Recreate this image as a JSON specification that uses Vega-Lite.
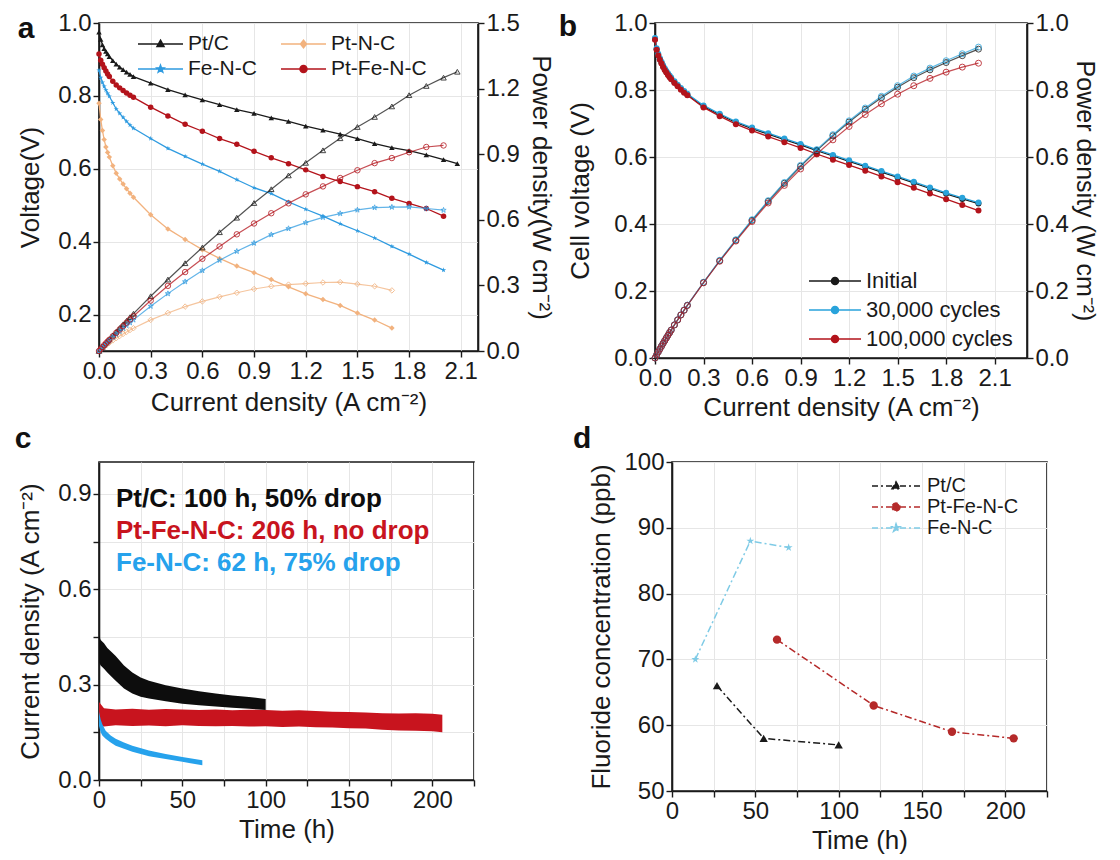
{
"$schema": "https://vega.github.io/schema/vega-lite/v6.json",
"background": "white",
"padding": {"left": 13, "top": 10, "right": 0, "bottom": 0},
"config": {
  "font": "Liberation Sans",
  "view": {"stroke": "#1a1a1a", "strokeWidth": 1.6},
  "axis": {"labelFontSize": 24, "titleFontSize": 26, "titleFontWeight": "normal", "labelColor": "#1a1a1a", "titleColor": "#1a1a1a", "domainColor": "#1a1a1a", "domainWidth": 1.6, "tickColor": "#1a1a1a", "tickWidth": 1.4, "tickSize": 6, "gridColor": "#e6e6e6", "gridWidth": 1, "labelPadding": 2, "titlePadding": 8, "labelOverlap": false, "labelFlush": false},
  "legend": {"labelLimit": 600, "padding": 0, "titlePadding": 0, "labelColor": "#1a1a1a"},
  "title": {"anchor": "start", "frame": "bounds", "fontSize": 30, "fontWeight": "bold", "color": "#111111", "offset": 0, "baseline": "alphabetic"}
},
"resolve": {"scale": {"color": "independent", "shape": "independent"}, "legend": {"color": "independent", "shape": "independent"}},
"datasets": {
"pa": [
{"s":"Pt/C","j":0,"V":0.975,"P":0},{"s":"Pt/C","j":0.01,"V":0.955,"P":0.0096},{"s":"Pt/C","j":0.02,"V":0.94,"P":0.0188},{"s":"Pt/C","j":0.03,"V":0.93,"P":0.0279},{"s":"Pt/C","j":0.04,"V":0.922,"P":0.0369},{"s":"Pt/C","j":0.05,"V":0.915,"P":0.0458},{"s":"Pt/C","j":0.06,"V":0.908,"P":0.0545},{"s":"Pt/C","j":0.08,"V":0.897,"P":0.0718},{"s":"Pt/C","j":0.1,"V":0.887,"P":0.0887},{"s":"Pt/C","j":0.12,"V":0.879,"P":0.1055},{"s":"Pt/C","j":0.14,"V":0.872,"P":0.1221},{"s":"Pt/C","j":0.16,"V":0.865,"P":0.1384},{"s":"Pt/C","j":0.18,"V":0.859,"P":0.1546},{"s":"Pt/C","j":0.2,"V":0.853,"P":0.1706},{"s":"Pt/C","j":0.3,"V":0.835,"P":0.2505},{"s":"Pt/C","j":0.4,"V":0.817,"P":0.3268},{"s":"Pt/C","j":0.5,"V":0.803,"P":0.4015},{"s":"Pt/C","j":0.6,"V":0.789,"P":0.4734},{"s":"Pt/C","j":0.7,"V":0.776,"P":0.5432},{"s":"Pt/C","j":0.8,"V":0.762,"P":0.6096},{"s":"Pt/C","j":0.9,"V":0.752,"P":0.6768},{"s":"Pt/C","j":1.0,"V":0.74,"P":0.74},{"s":"Pt/C","j":1.1,"V":0.73,"P":0.803},{"s":"Pt/C","j":1.2,"V":0.717,"P":0.8604},{"s":"Pt/C","j":1.3,"V":0.706,"P":0.9178},{"s":"Pt/C","j":1.4,"V":0.695,"P":0.973},{"s":"Pt/C","j":1.5,"V":0.683,"P":1.0245},{"s":"Pt/C","j":1.6,"V":0.669,"P":1.0704},{"s":"Pt/C","j":1.7,"V":0.658,"P":1.1186},{"s":"Pt/C","j":1.8,"V":0.65,"P":1.17},{"s":"Pt/C","j":1.9,"V":0.638,"P":1.2122},{"s":"Pt/C","j":2.0,"V":0.625,"P":1.25},{"s":"Pt/C","j":2.08,"V":0.614,"P":1.2771},
{"s":"Pt-N-C","j":0,"V":0.78,"P":0},{"s":"Pt-N-C","j":0.01,"V":0.735,"P":0.0074},{"s":"Pt-N-C","j":0.02,"V":0.705,"P":0.0141},{"s":"Pt-N-C","j":0.03,"V":0.68,"P":0.0204},{"s":"Pt-N-C","j":0.04,"V":0.66,"P":0.0264},{"s":"Pt-N-C","j":0.05,"V":0.645,"P":0.0323},{"s":"Pt-N-C","j":0.06,"V":0.632,"P":0.0379},{"s":"Pt-N-C","j":0.08,"V":0.608,"P":0.0486},{"s":"Pt-N-C","j":0.1,"V":0.588,"P":0.0588},{"s":"Pt-N-C","j":0.12,"V":0.572,"P":0.0686},{"s":"Pt-N-C","j":0.14,"V":0.558,"P":0.0781},{"s":"Pt-N-C","j":0.16,"V":0.545,"P":0.0872},{"s":"Pt-N-C","j":0.18,"V":0.533,"P":0.0959},{"s":"Pt-N-C","j":0.2,"V":0.522,"P":0.1044},{"s":"Pt-N-C","j":0.3,"V":0.474,"P":0.1422},{"s":"Pt-N-C","j":0.4,"V":0.435,"P":0.174},{"s":"Pt-N-C","j":0.5,"V":0.406,"P":0.203},{"s":"Pt-N-C","j":0.6,"V":0.378,"P":0.2268},{"s":"Pt-N-C","j":0.7,"V":0.354,"P":0.2478},{"s":"Pt-N-C","j":0.8,"V":0.333,"P":0.2664},{"s":"Pt-N-C","j":0.9,"V":0.315,"P":0.2835},{"s":"Pt-N-C","j":1.0,"V":0.296,"P":0.296},{"s":"Pt-N-C","j":1.1,"V":0.276,"P":0.3036},{"s":"Pt-N-C","j":1.2,"V":0.257,"P":0.3084},{"s":"Pt-N-C","j":1.3,"V":0.241,"P":0.3133},{"s":"Pt-N-C","j":1.4,"V":0.225,"P":0.315},{"s":"Pt-N-C","j":1.5,"V":0.204,"P":0.306},{"s":"Pt-N-C","j":1.6,"V":0.185,"P":0.296},{"s":"Pt-N-C","j":1.7,"V":0.163,"P":0.2771},
{"s":"Fe-N-C","j":0,"V":0.87,"P":0},{"s":"Fe-N-C","j":0.01,"V":0.85,"P":0.0085},{"s":"Fe-N-C","j":0.02,"V":0.837,"P":0.0167},{"s":"Fe-N-C","j":0.03,"V":0.826,"P":0.0248},{"s":"Fe-N-C","j":0.04,"V":0.816,"P":0.0326},{"s":"Fe-N-C","j":0.05,"V":0.807,"P":0.0404},{"s":"Fe-N-C","j":0.06,"V":0.799,"P":0.0479},{"s":"Fe-N-C","j":0.08,"V":0.781,"P":0.0625},{"s":"Fe-N-C","j":0.1,"V":0.764,"P":0.0764},{"s":"Fe-N-C","j":0.12,"V":0.752,"P":0.0902},{"s":"Fe-N-C","j":0.14,"V":0.741,"P":0.1037},{"s":"Fe-N-C","j":0.16,"V":0.73,"P":0.1168},{"s":"Fe-N-C","j":0.18,"V":0.72,"P":0.1296},{"s":"Fe-N-C","j":0.2,"V":0.711,"P":0.1422},{"s":"Fe-N-C","j":0.3,"V":0.683,"P":0.2049},{"s":"Fe-N-C","j":0.4,"V":0.656,"P":0.2624},{"s":"Fe-N-C","j":0.5,"V":0.634,"P":0.317},{"s":"Fe-N-C","j":0.6,"V":0.613,"P":0.3678},{"s":"Fe-N-C","j":0.7,"V":0.593,"P":0.4151},{"s":"Fe-N-C","j":0.8,"V":0.57,"P":0.456},{"s":"Fe-N-C","j":0.9,"V":0.548,"P":0.4932},{"s":"Fe-N-C","j":1.0,"V":0.532,"P":0.532},{"s":"Fe-N-C","j":1.1,"V":0.509,"P":0.5599},{"s":"Fe-N-C","j":1.2,"V":0.489,"P":0.5868},{"s":"Fe-N-C","j":1.3,"V":0.47,"P":0.611},{"s":"Fe-N-C","j":1.4,"V":0.449,"P":0.6286},{"s":"Fe-N-C","j":1.5,"V":0.43,"P":0.645},{"s":"Fe-N-C","j":1.6,"V":0.41,"P":0.656},{"s":"Fe-N-C","j":1.7,"V":0.387,"P":0.6579},{"s":"Fe-N-C","j":1.8,"V":0.366,"P":0.6588},{"s":"Fe-N-C","j":1.9,"V":0.343,"P":0.6517},{"s":"Fe-N-C","j":2.0,"V":0.322,"P":0.644},
{"s":"Pt-Fe-N-C","j":0,"V":0.915,"P":0},{"s":"Pt-Fe-N-C","j":0.01,"V":0.898,"P":0.009},{"s":"Pt-Fe-N-C","j":0.02,"V":0.887,"P":0.0177},{"s":"Pt-Fe-N-C","j":0.03,"V":0.877,"P":0.0263},{"s":"Pt-Fe-N-C","j":0.04,"V":0.868,"P":0.0347},{"s":"Pt-Fe-N-C","j":0.05,"V":0.86,"P":0.043},{"s":"Pt-Fe-N-C","j":0.06,"V":0.853,"P":0.0512},{"s":"Pt-Fe-N-C","j":0.08,"V":0.84,"P":0.0672},{"s":"Pt-Fe-N-C","j":0.1,"V":0.83,"P":0.083},{"s":"Pt-Fe-N-C","j":0.12,"V":0.822,"P":0.0986},{"s":"Pt-Fe-N-C","j":0.14,"V":0.815,"P":0.1141},{"s":"Pt-Fe-N-C","j":0.16,"V":0.808,"P":0.1293},{"s":"Pt-Fe-N-C","j":0.18,"V":0.802,"P":0.1444},{"s":"Pt-Fe-N-C","j":0.2,"V":0.796,"P":0.1592},{"s":"Pt-Fe-N-C","j":0.3,"V":0.769,"P":0.2307},{"s":"Pt-Fe-N-C","j":0.4,"V":0.745,"P":0.298},{"s":"Pt-Fe-N-C","j":0.5,"V":0.722,"P":0.361},{"s":"Pt-Fe-N-C","j":0.6,"V":0.703,"P":0.4218},{"s":"Pt-Fe-N-C","j":0.7,"V":0.683,"P":0.4781},{"s":"Pt-Fe-N-C","j":0.8,"V":0.667,"P":0.5336},{"s":"Pt-Fe-N-C","j":0.9,"V":0.648,"P":0.5832},{"s":"Pt-Fe-N-C","j":1.0,"V":0.63,"P":0.63},{"s":"Pt-Fe-N-C","j":1.1,"V":0.614,"P":0.6754},{"s":"Pt-Fe-N-C","j":1.2,"V":0.597,"P":0.7164},{"s":"Pt-Fe-N-C","j":1.3,"V":0.579,"P":0.7527},{"s":"Pt-Fe-N-C","j":1.4,"V":0.565,"P":0.791},{"s":"Pt-Fe-N-C","j":1.5,"V":0.551,"P":0.8265},{"s":"Pt-Fe-N-C","j":1.6,"V":0.537,"P":0.8592},{"s":"Pt-Fe-N-C","j":1.7,"V":0.519,"P":0.8823},{"s":"Pt-Fe-N-C","j":1.8,"V":0.505,"P":0.909},{"s":"Pt-Fe-N-C","j":1.9,"V":0.491,"P":0.9329},{"s":"Pt-Fe-N-C","j":2.0,"V":0.47,"P":0.94}
],
"pb": [
{"s":"Initial","j":0,"V":0.952,"P":0},{"s":"Initial","j":0.01,"V":0.922,"P":0.0092},{"s":"Initial","j":0.02,"V":0.905,"P":0.0181},{"s":"Initial","j":0.03,"V":0.892,"P":0.0268},{"s":"Initial","j":0.04,"V":0.881,"P":0.0352},{"s":"Initial","j":0.05,"V":0.871,"P":0.0436},{"s":"Initial","j":0.06,"V":0.862,"P":0.0517},{"s":"Initial","j":0.07,"V":0.854,"P":0.0598},{"s":"Initial","j":0.08,"V":0.847,"P":0.0678},{"s":"Initial","j":0.09,"V":0.84,"P":0.0756},{"s":"Initial","j":0.1,"V":0.834,"P":0.0834},{"s":"Initial","j":0.12,"V":0.823,"P":0.0988},{"s":"Initial","j":0.14,"V":0.813,"P":0.1138},{"s":"Initial","j":0.16,"V":0.803,"P":0.1285},{"s":"Initial","j":0.18,"V":0.794,"P":0.1429},{"s":"Initial","j":0.2,"V":0.786,"P":0.1572},{"s":"Initial","j":0.3,"V":0.751,"P":0.2253},{"s":"Initial","j":0.4,"V":0.726,"P":0.2904},{"s":"Initial","j":0.5,"V":0.703,"P":0.3515},{"s":"Initial","j":0.6,"V":0.685,"P":0.411},{"s":"Initial","j":0.7,"V":0.668,"P":0.4676},{"s":"Initial","j":0.8,"V":0.652,"P":0.5216},{"s":"Initial","j":0.9,"V":0.636,"P":0.5724},{"s":"Initial","j":1.0,"V":0.619,"P":0.619},{"s":"Initial","j":1.1,"V":0.603,"P":0.6633},{"s":"Initial","j":1.2,"V":0.587,"P":0.7044},{"s":"Initial","j":1.3,"V":0.571,"P":0.7423},{"s":"Initial","j":1.4,"V":0.555,"P":0.777},{"s":"Initial","j":1.5,"V":0.539,"P":0.8085},{"s":"Initial","j":1.6,"V":0.523,"P":0.8368},{"s":"Initial","j":1.7,"V":0.506,"P":0.8602},{"s":"Initial","j":1.8,"V":0.49,"P":0.882},{"s":"Initial","j":1.9,"V":0.475,"P":0.9025},{"s":"Initial","j":2.0,"V":0.461,"P":0.922},
{"s":"30,000 cycles","j":0,"V":0.955,"P":0},{"s":"30,000 cycles","j":0.01,"V":0.925,"P":0.0093},{"s":"30,000 cycles","j":0.02,"V":0.908,"P":0.0182},{"s":"30,000 cycles","j":0.03,"V":0.895,"P":0.0269},{"s":"30,000 cycles","j":0.04,"V":0.884,"P":0.0354},{"s":"30,000 cycles","j":0.05,"V":0.874,"P":0.0437},{"s":"30,000 cycles","j":0.06,"V":0.865,"P":0.0519},{"s":"30,000 cycles","j":0.07,"V":0.857,"P":0.06},{"s":"30,000 cycles","j":0.08,"V":0.85,"P":0.068},{"s":"30,000 cycles","j":0.09,"V":0.843,"P":0.0759},{"s":"30,000 cycles","j":0.1,"V":0.837,"P":0.0837},{"s":"30,000 cycles","j":0.12,"V":0.826,"P":0.0991},{"s":"30,000 cycles","j":0.14,"V":0.816,"P":0.1142},{"s":"30,000 cycles","j":0.16,"V":0.806,"P":0.129},{"s":"30,000 cycles","j":0.18,"V":0.797,"P":0.1435},{"s":"30,000 cycles","j":0.2,"V":0.789,"P":0.1578},{"s":"30,000 cycles","j":0.3,"V":0.754,"P":0.2262},{"s":"30,000 cycles","j":0.4,"V":0.729,"P":0.2916},{"s":"30,000 cycles","j":0.5,"V":0.706,"P":0.353},{"s":"30,000 cycles","j":0.6,"V":0.688,"P":0.4128},{"s":"30,000 cycles","j":0.7,"V":0.671,"P":0.4697},{"s":"30,000 cycles","j":0.8,"V":0.655,"P":0.524},{"s":"30,000 cycles","j":0.9,"V":0.639,"P":0.5751},{"s":"30,000 cycles","j":1.0,"V":0.622,"P":0.622},{"s":"30,000 cycles","j":1.1,"V":0.606,"P":0.6666},{"s":"30,000 cycles","j":1.2,"V":0.59,"P":0.708},{"s":"30,000 cycles","j":1.3,"V":0.574,"P":0.7462},{"s":"30,000 cycles","j":1.4,"V":0.558,"P":0.7812},{"s":"30,000 cycles","j":1.5,"V":0.542,"P":0.813},{"s":"30,000 cycles","j":1.6,"V":0.526,"P":0.8416},{"s":"30,000 cycles","j":1.7,"V":0.509,"P":0.8653},{"s":"30,000 cycles","j":1.8,"V":0.493,"P":0.8874},{"s":"30,000 cycles","j":1.9,"V":0.478,"P":0.9082},{"s":"30,000 cycles","j":2.0,"V":0.464,"P":0.928},
{"s":"100,000 cycles","j":0,"V":0.95,"P":0},{"s":"100,000 cycles","j":0.01,"V":0.92,"P":0.0092},{"s":"100,000 cycles","j":0.02,"V":0.903,"P":0.0181},{"s":"100,000 cycles","j":0.03,"V":0.89,"P":0.0267},{"s":"100,000 cycles","j":0.04,"V":0.879,"P":0.0352},{"s":"100,000 cycles","j":0.05,"V":0.869,"P":0.0435},{"s":"100,000 cycles","j":0.06,"V":0.86,"P":0.0516},{"s":"100,000 cycles","j":0.07,"V":0.852,"P":0.0596},{"s":"100,000 cycles","j":0.08,"V":0.845,"P":0.0676},{"s":"100,000 cycles","j":0.09,"V":0.838,"P":0.0754},{"s":"100,000 cycles","j":0.1,"V":0.832,"P":0.0832},{"s":"100,000 cycles","j":0.12,"V":0.821,"P":0.0985},{"s":"100,000 cycles","j":0.14,"V":0.811,"P":0.1135},{"s":"100,000 cycles","j":0.16,"V":0.801,"P":0.1282},{"s":"100,000 cycles","j":0.18,"V":0.792,"P":0.1426},{"s":"100,000 cycles","j":0.2,"V":0.784,"P":0.1568},{"s":"100,000 cycles","j":0.3,"V":0.748,"P":0.2244},{"s":"100,000 cycles","j":0.4,"V":0.722,"P":0.2888},{"s":"100,000 cycles","j":0.5,"V":0.698,"P":0.349},{"s":"100,000 cycles","j":0.6,"V":0.679,"P":0.4074},{"s":"100,000 cycles","j":0.7,"V":0.661,"P":0.4627},{"s":"100,000 cycles","j":0.8,"V":0.644,"P":0.5152},{"s":"100,000 cycles","j":0.9,"V":0.627,"P":0.5643},{"s":"100,000 cycles","j":1.0,"V":0.609,"P":0.609},{"s":"100,000 cycles","j":1.1,"V":0.592,"P":0.6512},{"s":"100,000 cycles","j":1.2,"V":0.576,"P":0.6912},{"s":"100,000 cycles","j":1.3,"V":0.559,"P":0.7267},{"s":"100,000 cycles","j":1.4,"V":0.542,"P":0.7588},{"s":"100,000 cycles","j":1.5,"V":0.525,"P":0.7875},{"s":"100,000 cycles","j":1.6,"V":0.508,"P":0.8128},{"s":"100,000 cycles","j":1.7,"V":0.491,"P":0.8347},{"s":"100,000 cycles","j":1.8,"V":0.474,"P":0.8532},{"s":"100,000 cycles","j":1.9,"V":0.457,"P":0.8683},{"s":"100,000 cycles","j":2.0,"V":0.44,"P":0.88}
],
"pc": [
{"s":"Pt/C","t":0,"lo":0.37,"hi":0.455},{"s":"Pt/C","t":1,"lo":0.36,"hi":0.44},{"s":"Pt/C","t":3,"lo":0.35,"hi":0.43},{"s":"Pt/C","t":5,"lo":0.338,"hi":0.415},{"s":"Pt/C","t":8,"lo":0.322,"hi":0.4},{"s":"Pt/C","t":10,"lo":0.312,"hi":0.39},{"s":"Pt/C","t":15,"lo":0.288,"hi":0.36},{"s":"Pt/C","t":20,"lo":0.272,"hi":0.338},{"s":"Pt/C","t":25,"lo":0.262,"hi":0.322},{"s":"Pt/C","t":30,"lo":0.256,"hi":0.312},{"s":"Pt/C","t":40,"lo":0.248,"hi":0.298},{"s":"Pt/C","t":50,"lo":0.24,"hi":0.288},{"s":"Pt/C","t":60,"lo":0.235,"hi":0.279},{"s":"Pt/C","t":70,"lo":0.231,"hi":0.272},{"s":"Pt/C","t":80,"lo":0.227,"hi":0.266},{"s":"Pt/C","t":90,"lo":0.224,"hi":0.261},{"s":"Pt/C","t":100,"lo":0.22,"hi":0.255},
{"s":"Pt-Fe-N-C","t":0,"lo":0.17,"hi":0.245},{"s":"Pt-Fe-N-C","t":3,"lo":0.168,"hi":0.226},{"s":"Pt-Fe-N-C","t":10,"lo":0.172,"hi":0.222},{"s":"Pt-Fe-N-C","t":20,"lo":0.17,"hi":0.224},{"s":"Pt-Fe-N-C","t":30,"lo":0.171,"hi":0.221},{"s":"Pt-Fe-N-C","t":40,"lo":0.169,"hi":0.223},{"s":"Pt-Fe-N-C","t":50,"lo":0.172,"hi":0.222},{"s":"Pt-Fe-N-C","t":60,"lo":0.17,"hi":0.22},{"s":"Pt-Fe-N-C","t":70,"lo":0.169,"hi":0.222},{"s":"Pt-Fe-N-C","t":80,"lo":0.17,"hi":0.219},{"s":"Pt-Fe-N-C","t":90,"lo":0.168,"hi":0.221},{"s":"Pt-Fe-N-C","t":100,"lo":0.169,"hi":0.22},{"s":"Pt-Fe-N-C","t":110,"lo":0.167,"hi":0.218},{"s":"Pt-Fe-N-C","t":120,"lo":0.168,"hi":0.219},{"s":"Pt-Fe-N-C","t":130,"lo":0.166,"hi":0.217},{"s":"Pt-Fe-N-C","t":140,"lo":0.165,"hi":0.215},{"s":"Pt-Fe-N-C","t":150,"lo":0.163,"hi":0.214},{"s":"Pt-Fe-N-C","t":160,"lo":0.162,"hi":0.212},{"s":"Pt-Fe-N-C","t":170,"lo":0.158,"hi":0.21},{"s":"Pt-Fe-N-C","t":180,"lo":0.156,"hi":0.209},{"s":"Pt-Fe-N-C","t":190,"lo":0.155,"hi":0.21},{"s":"Pt-Fe-N-C","t":200,"lo":0.153,"hi":0.208},{"s":"Pt-Fe-N-C","t":206,"lo":0.15,"hi":0.205},
{"s":"Fe-N-C","t":0,"lo":0.17,"hi":0.215},{"s":"Fe-N-C","t":1,"lo":0.15,"hi":0.19},{"s":"Fe-N-C","t":2,"lo":0.14,"hi":0.175},{"s":"Fe-N-C","t":4,"lo":0.13,"hi":0.155},{"s":"Fe-N-C","t":7,"lo":0.118,"hi":0.14},{"s":"Fe-N-C","t":10,"lo":0.108,"hi":0.13},{"s":"Fe-N-C","t":15,"lo":0.098,"hi":0.118},{"s":"Fe-N-C","t":20,"lo":0.089,"hi":0.108},{"s":"Fe-N-C","t":30,"lo":0.075,"hi":0.093},{"s":"Fe-N-C","t":40,"lo":0.066,"hi":0.082},{"s":"Fe-N-C","t":50,"lo":0.057,"hi":0.072},{"s":"Fe-N-C","t":62,"lo":0.046,"hi":0.062}
],
"pd": [
{"s":"Pt/C","t":27,"F":66},{"s":"Pt/C","t":55,"F":58},{"s":"Pt/C","t":100,"F":57},
{"s":"Pt-Fe-N-C","t":63,"F":73},{"s":"Pt-Fe-N-C","t":121,"F":63},{"s":"Pt-Fe-N-C","t":168,"F":59},{"s":"Pt-Fe-N-C","t":205,"F":58},
{"s":"Fe-N-C","t":14,"F":70},{"s":"Fe-N-C","t":47,"F":88},{"s":"Fe-N-C","t":70,"F":87}
]
},
"spacing": 2,
"vconcat": [
{
"spacing": 2,
"resolve": {"scale": {"color": "independent", "shape": "independent"}, "legend": {"color": "independent", "shape": "independent"}},
"hconcat": [
{
"width": 379, "height": 328,
"title": {"text": "a", "dy": 37},
"data": {"name": "pa"},
"resolve": {"scale": {"y": "independent"}},
"layer": [
 {"layer": [
  {"mark": {"type": "line", "strokeWidth": 1.3},
   "encoding": {
    "x": {"field": "j", "type": "quantitative", "scale": {"domain": [0, 2.2], "nice": false}, "axis": {"title": "Current density (A cm⁻²)", "values": [0,0.15,0.3,0.45,0.6,0.75,0.9,1.05,1.2,1.35,1.5,1.65,1.8,1.95,2.1], "labelExpr": "round(datum.value*100) % 30 == 0 ? format(datum.value, '.1f') : ''", "titlePadding": 6}},
    "y": {"field": "V", "type": "quantitative", "scale": {"domain": [0.1, 1.0], "nice": false, "zero": false}, "axis": {"title": "Voltage(V)", "values": [0.2,0.4,0.6,0.8,1.0], "format": ".1f", "titlePadding": 14}},
    "color": {"field": "s", "type": "nominal", "scale": {"domain": ["Pt/C", "Fe-N-C", "Pt-N-C", "Pt-Fe-N-C"], "range": ["#1a1a1a", "#2f9be0", "#f2b27e", "#b3131b"]},
     "legend": {"orient": "none", "legendX": 38, "legendY": 10, "columns": 2, "columnPadding": 21, "rowPadding": 4, "title": null, "labelFontSize": 21, "symbolSize": 400, "symbolStrokeWidth": 1.5, "labelOffset": 29, "symbolType": "M-1,0H3.5",
      "encode": {"symbols": {"update": {
        "shape": {"signal": "datum.value==='Pt/C' ? 'M-1,0H3.5M1.25,-0.38L1.6,0.25L0.9,0.25Z' : datum.value==='Pt-N-C' ? 'M-1,0H3.5M1.25,-0.38L1.55,0L1.25,0.38L0.95,0Z' : datum.value==='Fe-N-C' ? 'M-1,0H3.5M1.25,-0.38L1.344,-0.129L1.611,-0.117L1.402,0.049L1.473,0.307L1.25,0.16L1.027,0.307L1.098,0.049L0.889,-0.117L1.156,-0.129Z' : 'M-1,0H3.5M1.6,0A0.35,0.35,0,1,1,0.9,0A0.35,0.35,0,1,1,1.6,0Z'"},
        "fill": {"signal": "datum.value==='Pt/C' ? '#1a1a1a' : datum.value==='Pt-N-C' ? '#f2b27e' : datum.value==='Fe-N-C' ? '#2f9be0' : '#b3131b'"},
        "stroke": {"signal": "datum.value==='Pt/C' ? '#1a1a1a' : datum.value==='Pt-N-C' ? '#f2b27e' : datum.value==='Fe-N-C' ? '#2f9be0' : '#b3131b'"},
        "opacity": {"value": 1}
      }}}}
    }
   }},
  {"transform": [{"filter": "datum.s === 'Pt/C'"}], "mark": {"type": "point", "filled": true, "size": 30, "opacity": 1, "shape": "triangle-up"},
   "encoding": {"x": {"field": "j", "type": "quantitative"}, "y": {"field": "V", "type": "quantitative"}, "color": {"field": "s", "type": "nominal"}}},
  {"transform": [{"filter": "datum.s === 'Pt-N-C'"}], "mark": {"type": "point", "filled": true, "size": 30, "opacity": 1, "shape": "diamond"},
   "encoding": {"x": {"field": "j", "type": "quantitative"}, "y": {"field": "V", "type": "quantitative"}, "color": {"field": "s", "type": "nominal"}}},
  {"transform": [{"filter": "datum.s === 'Fe-N-C'"}], "mark": {"type": "point", "filled": true, "size": 30, "opacity": 1, "shape": "M0,-1L0.22,-0.31L0.95,-0.31L0.36,0.12L0.59,0.81L0,0.38L-0.59,0.81L-0.36,0.12L-0.95,-0.31L-0.22,-0.31Z"},
   "encoding": {"x": {"field": "j", "type": "quantitative"}, "y": {"field": "V", "type": "quantitative"}, "color": {"field": "s", "type": "nominal"}}},
  {"transform": [{"filter": "datum.s === 'Pt-Fe-N-C'"}], "mark": {"type": "point", "filled": true, "size": 30, "opacity": 1, "shape": "circle"},
   "encoding": {"x": {"field": "j", "type": "quantitative"}, "y": {"field": "V", "type": "quantitative"}, "color": {"field": "s", "type": "nominal"}}}
 ]},
 {"layer": [
  {"mark": {"type": "line", "strokeWidth": 1.2, "opacity": 0.75},
   "encoding": {
    "x": {"field": "j", "type": "quantitative"},
    "y": {"field": "P", "type": "quantitative", "scale": {"domain": [0, 1.5], "nice": false}, "axis": {"orient": "right", "grid": false, "title": "Power density(W cm⁻²)", "values": [0,0.15,0.3,0.45,0.6,0.75,0.9,1.05,1.2,1.35,1.5], "labelExpr": "round(datum.value*100) % 30 == 0 ? format(datum.value, '.1f') : ''", "titlePadding": 8}},
    "color": {"field": "s", "type": "nominal"}
   }},
  {"transform": [{"filter": "datum.s === 'Pt/C'"}], "mark": {"type": "point", "filled": false, "size": 30, "strokeWidth": 1, "opacity": 0.8, "shape": "triangle-up"},
   "encoding": {"x": {"field": "j", "type": "quantitative"}, "y": {"field": "P", "type": "quantitative"}, "color": {"field": "s", "type": "nominal"}}},
  {"transform": [{"filter": "datum.s === 'Pt-N-C'"}], "mark": {"type": "point", "filled": false, "size": 30, "strokeWidth": 1, "opacity": 0.8, "shape": "diamond"},
   "encoding": {"x": {"field": "j", "type": "quantitative"}, "y": {"field": "P", "type": "quantitative"}, "color": {"field": "s", "type": "nominal"}}},
  {"transform": [{"filter": "datum.s === 'Fe-N-C'"}], "mark": {"type": "point", "filled": false, "size": 30, "strokeWidth": 1, "opacity": 0.8, "shape": "M0,-1L0.22,-0.31L0.95,-0.31L0.36,0.12L0.59,0.81L0,0.38L-0.59,0.81L-0.36,0.12L-0.95,-0.31L-0.22,-0.31Z"},
   "encoding": {"x": {"field": "j", "type": "quantitative"}, "y": {"field": "P", "type": "quantitative"}, "color": {"field": "s", "type": "nominal"}}},
  {"transform": [{"filter": "datum.s === 'Pt-Fe-N-C'"}], "mark": {"type": "point", "filled": false, "size": 30, "strokeWidth": 1, "opacity": 0.8, "shape": "circle"},
   "encoding": {"x": {"field": "j", "type": "quantitative"}, "y": {"field": "P", "type": "quantitative"}, "color": {"field": "s", "type": "nominal"}}}
 ]}
]
},
{
"width": 372, "height": 335,
"title": {"text": "b", "dy": 35, "dx": -9},
"data": {"name": "pb"},
"resolve": {"scale": {"y": "independent"}},
"layer": [
 {"layer": [
  {"mark": {"type": "line", "strokeWidth": 1.3},
   "encoding": {
    "x": {"field": "j", "type": "quantitative", "scale": {"domain": [0, 2.3], "nice": false}, "axis": {"title": "Current density (A cm⁻²)", "values": [0,0.15,0.3,0.45,0.6,0.75,0.9,1.05,1.2,1.35,1.5,1.65,1.8,1.95,2.1,2.25], "labelExpr": "round(datum.value*100) % 30 == 0 ? format(datum.value, '.1f') : ''", "titlePadding": 4}},
    "y": {"field": "V", "type": "quantitative", "scale": {"domain": [0, 1.0], "nice": false}, "axis": {"title": "Cell voltage (V)", "values": [0,0.1,0.2,0.3,0.4,0.5,0.6,0.7,0.8,0.9,1.0], "labelExpr": "round(datum.value*10) % 2 == 0 ? format(datum.value, '.1f') : ''", "titlePadding": 20}},
    "color": {"field": "s", "type": "nominal", "scale": {"domain": ["Initial", "30,000 cycles", "100,000 cycles"], "range": ["#1a1a1a", "#29a3db", "#b3131b"]},
     "legend": {"orient": "none", "legendX": 153, "legendY": 247, "rowPadding": 7, "title": null, "labelFontSize": 22, "symbolSize": 400, "symbolStrokeWidth": 1.5, "labelOffset": 36,
      "symbolType": "M-1,0H4.2M1.95,0A0.35,0.35,0,1,1,1.25,0A0.35,0.35,0,1,1,1.95,0Z",
      "encode": {"symbols": {"update": {
        "fill": {"signal": "datum.value==='Initial' ? '#1a1a1a' : datum.value==='30,000 cycles' ? '#29a3db' : '#b3131b'"},
        "stroke": {"signal": "datum.value==='Initial' ? '#1a1a1a' : datum.value==='30,000 cycles' ? '#29a3db' : '#b3131b'"},
        "opacity": {"value": 1}
      }}}}
    }
   }},
  {"mark": {"type": "point", "filled": true, "size": 36, "shape": "circle", "opacity": 1},
   "encoding": {
    "x": {"field": "j", "type": "quantitative"},
    "y": {"field": "V", "type": "quantitative"},
    "color": {"field": "s", "type": "nominal"}
   }}
 ]},
 {"layer": [
  {"mark": {"type": "line", "strokeWidth": 1.2, "opacity": 0.75},
   "encoding": {
    "x": {"field": "j", "type": "quantitative"},
    "y": {"field": "P", "type": "quantitative", "scale": {"domain": [0, 1.0], "nice": false}, "axis": {"orient": "right", "grid": false, "title": "Power density (W cm⁻²)", "titleFontSize": 25, "values": [0,0.1,0.2,0.3,0.4,0.5,0.6,0.7,0.8,0.9,1.0], "labelExpr": "round(datum.value*10) % 2 == 0 ? format(datum.value, '.1f') : ''", "titlePadding": 3}},
    "color": {"field": "s", "type": "nominal"}
   }},
  {"mark": {"type": "point", "filled": false, "size": 36, "shape": "circle", "strokeWidth": 1, "opacity": 0.8},
   "encoding": {
    "x": {"field": "j", "type": "quantitative"},
    "y": {"field": "P", "type": "quantitative"},
    "color": {"field": "s", "type": "nominal"}
   }}
 ]}
]
}
]
},
{
"spacing": 96,
"resolve": {"scale": {"color": "independent", "shape": "independent"}, "legend": {"color": "independent", "shape": "independent"}},
"hconcat": [
{
"width": 375, "height": 318,
"title": {"text": "c", "dy": -4, "dx": -3},
"data": {"name": "pc"},
"mark": {"type": "area", "opacity": 1},
"encoding": {
  "x": {"field": "t", "type": "quantitative", "scale": {"domain": [0, 225], "nice": false}, "axis": {"title": "Time (h)", "values": [0,25,50,75,100,125,150,175,200,225], "labelExpr": "datum.value % 50 == 0 ? datum.label : ''", "titlePadding": 4}},
  "y": {"field": "lo", "type": "quantitative", "scale": {"domain": [0, 1.0], "nice": false}, "axis": {"title": "Current density (A cm⁻²)", "values": [0,0.15,0.3,0.45,0.6,0.75,0.9], "labelExpr": "round(datum.value*100) % 30 == 0 ? format(datum.value, '.1f') : ''", "titlePadding": 14}},
  "y2": {"field": "hi"},
  "color": {"field": "s", "type": "nominal", "scale": {"domain": ["Pt/C", "Pt-Fe-N-C", "Fe-N-C"], "range": ["#0d0d0d", "#c8141e", "#26a2ec"]},
   "legend": {"orient": "none", "legendX": -9, "legendY": 24, "rowPadding": 6, "title": null, "labelFontSize": 26, "labelFontWeight": "bold", "symbolSize": 0, "symbolStrokeWidth": 0, "symbolOpacity": 0, "labelOffset": 0,
    "labelExpr": "datum.value === 'Pt/C' ? 'Pt/C: 100 h, 50% drop' : datum.value === 'Pt-Fe-N-C' ? 'Pt-Fe-N-C: 206 h, no drop' : 'Fe-N-C: 62 h, 75% drop'",
    "encode": {"labels": {"update": {"fill": {"signal": "datum.value === 'Pt/C' ? '#0d0d0d' : datum.value === 'Pt-Fe-N-C' ? '#c8141e' : '#26a2ec'"}}}}}
  }
}
},
{
"width": 375, "height": 329,
"title": {"text": "d", "dy": 8, "dx": -16},
"data": {"name": "pd"},
"layer": [
  {"mark": {"type": "line", "strokeWidth": 1.5, "strokeDash": [7, 3, 2, 3]},
   "encoding": {
    "x": {"field": "t", "type": "quantitative", "scale": {"domain": [0, 225], "nice": false}, "axis": {"title": "Time (h)", "values": [0,25,50,75,100,125,150,175,200,225], "labelExpr": "datum.value % 50 == 0 ? datum.label : ''", "titlePadding": 4}},
    "y": {"field": "F", "type": "quantitative", "scale": {"domain": [50, 100], "nice": false, "zero": false}, "axis": {"title": "Fluoride concentration (ppb)", "values": [50,55,60,65,70,75,80,85,90,95,100], "labelExpr": "datum.value % 10 == 0 ? datum.label : ''", "titlePadding": 9}},
    "color": {"field": "s", "type": "nominal", "scale": {"domain": ["Pt/C", "Pt-Fe-N-C", "Fe-N-C"], "range": ["#1a1a1a", "#b52a2a", "#7fcbe6"]},
     "legend": {"orient": "none", "legendX": 199, "legendY": 13, "rowPadding": 0, "title": null, "labelFontSize": 20, "symbolSize": 400, "symbolStrokeWidth": 1.5, "labelOffset": 34, "symbolDash": [6, 3, 2, 3], "symbolType": "M-1,0H3.8",
      "encode": {"symbols": {"update": {
        "shape": {"signal": "datum.value==='Pt/C' ? 'M-1,0H3.8M1.4,-0.42L1.8,0.28L1.0,0.28Z' : datum.value==='Pt-Fe-N-C' ? 'M-1,0H3.8M1.8,0A0.4,0.4,0,1,1,1.0,0A0.4,0.4,0,1,1,1.8,0Z' : 'M-1,0H3.8M1.4,-0.42L1.5,-0.138L1.799,-0.13L1.562,0.053L1.647,0.34L1.4,0.17L1.153,0.34L1.238,0.053L1.001,-0.13L1.3,-0.138Z'"},
        "fill": {"signal": "datum.value==='Pt/C' ? '#1a1a1a' : datum.value==='Pt-Fe-N-C' ? '#b52a2a' : '#7fcbe6'"},
        "stroke": {"signal": "datum.value==='Pt/C' ? '#1a1a1a' : datum.value==='Pt-Fe-N-C' ? '#b52a2a' : '#7fcbe6'"},
        "opacity": {"value": 1}
      }}}}
    }
   }},
  {"transform": [{"filter": "datum.s === 'Pt/C'"}], "mark": {"type": "point", "filled": true, "size": 70, "opacity": 1, "shape": "triangle-up"},
   "encoding": {"x": {"field": "t", "type": "quantitative"}, "y": {"field": "F", "type": "quantitative"}, "color": {"field": "s", "type": "nominal"}}},
  {"transform": [{"filter": "datum.s === 'Pt-Fe-N-C'"}], "mark": {"type": "point", "filled": true, "size": 70, "opacity": 1, "shape": "circle"},
   "encoding": {"x": {"field": "t", "type": "quantitative"}, "y": {"field": "F", "type": "quantitative"}, "color": {"field": "s", "type": "nominal"}}},
  {"transform": [{"filter": "datum.s === 'Fe-N-C'"}], "mark": {"type": "point", "filled": true, "size": 70, "opacity": 1, "shape": "M0,-1L0.22,-0.31L0.95,-0.31L0.36,0.12L0.59,0.81L0,0.38L-0.59,0.81L-0.36,0.12L-0.95,-0.31L-0.22,-0.31Z"},
   "encoding": {"x": {"field": "t", "type": "quantitative"}, "y": {"field": "F", "type": "quantitative"}, "color": {"field": "s", "type": "nominal"}}}
]
}
]
}
]
}
